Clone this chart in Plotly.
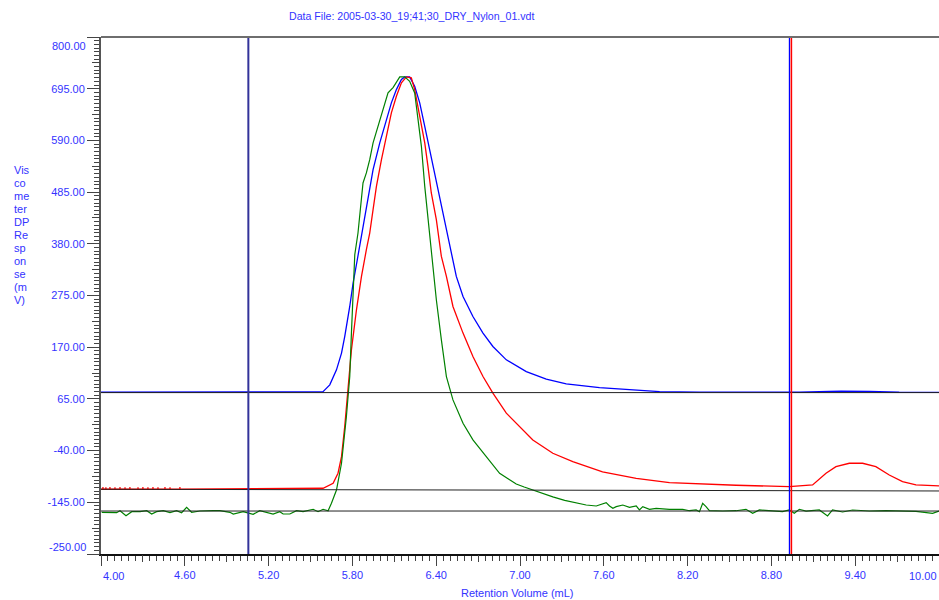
import plotly.graph_objects as go

# ---------------- data ----------------
blue_x = [4.00, 5.552, 5.588, 5.638, 5.686, 5.722, 5.745, 5.781, 5.805, 5.835, 5.876, 5.912,
          5.948, 5.996, 6.044, 6.079, 6.115, 6.151, 6.175, 6.210, 6.246, 6.282, 6.318, 6.353,
          6.389, 6.425, 6.461, 6.496, 6.544, 6.592, 6.663, 6.735, 6.806, 6.902, 7.045, 7.188,
          7.331, 7.569, 7.712, 7.855, 7.999, 8.285, 8.70, 9.000, 9.215, 9.30, 9.501, 9.715, 10.00]
blue_y = [78.5, 78.5, 79.3, 93.5, 124.0, 158.0, 191.7, 252.7, 300.2, 347.6, 415.3, 469.6,
          530.6, 584.9, 632.2, 666.2, 693.2, 713.6, 719.0, 719.0, 699.9, 666.2, 618.6, 571.2,
          523.9, 469.6, 422.2, 374.7, 313.7, 273.0, 232.3, 198.6, 171.4, 144.3, 120.5, 105.1,
          95.5, 88.0, 84.8, 81.9, 79.9, 78.7, 78.2, 78.5, 80.0, 80.5, 80.0, 78.5, 78.3]

red_x = [4.000,
         4.014, 4.014, 4.014, 4.035, 4.035, 4.035, 4.064, 4.064, 4.064, 4.100, 4.100, 4.100,
         4.136, 4.136, 4.136, 4.172, 4.172, 4.172, 4.207, 4.207, 4.207, 4.265, 4.265, 4.265,
         4.300, 4.300, 4.300, 4.336, 4.336, 4.336, 4.372, 4.372, 4.372, 4.408, 4.408, 4.408,
         4.458, 4.458, 4.458, 4.494, 4.494, 4.494, 4.565, 4.565, 4.565,
         5.590, 5.662, 5.697, 5.722, 5.745, 5.769, 5.793, 5.829, 5.865, 5.900, 5.924, 5.948,
         5.972, 6.008, 6.044, 6.079, 6.115, 6.151, 6.187, 6.222, 6.246, 6.270, 6.294, 6.318,
         6.341, 6.365, 6.401, 6.437, 6.473, 6.520, 6.592, 6.663, 6.735, 6.806, 6.902, 6.997,
         7.092, 7.235, 7.378, 7.591, 7.832, 8.070, 8.308, 8.547, 8.928, 9.095, 9.191, 9.262,
         9.358, 9.453, 9.548, 9.644, 9.739, 9.835, 10.000]
red_y = [-118.5,
         -118.5, -114.0, -118.5, -118.5, -114.5, -118.5, -118.5, -114.0, -118.5, -118.5, -114.5, -118.5,
         -118.5, -114.0, -118.5, -118.5, -114.5, -118.5, -118.5, -114.0, -118.5, -118.5, -114.5, -118.5,
         -118.5, -114.0, -118.5, -118.5, -114.5, -118.5, -118.5, -114.0, -118.5, -118.5, -114.5, -118.5,
         -118.5, -114.0, -118.5, -118.5, -114.5, -118.5, -118.5, -114.0, -118.5,
         -116.5, -106.4, -86.0, -52.3, 8.7, 83.3, 164.6, 246.0, 313.7, 368.0, 401.9, 449.3,
         496.6, 550.9, 598.3, 645.9, 679.6, 706.8, 719.0, 717.0, 693.2, 659.3, 618.6, 584.9,
         537.3, 483.2, 428.9, 354.3, 313.7, 252.7, 198.6, 151.0, 110.4, 76.6, 36.0, 8.7,
         -18.3, -45.4, -62.4, -83.4, -96.2, -105.1, -107.8, -110.4, -113.3, -109.8, -86.0, -72.6,
         -65.7, -65.7, -72.6, -89.5, -103.1, -109.8, -111.8]

green_x = [4.005, 4.064, 4.112, 4.136, 4.179, 4.220, 4.279, 4.327, 4.363, 4.398, 4.446, 4.494,
           4.541, 4.577, 4.613, 4.649, 4.708, 4.803, 4.851, 4.923, 4.947, 5.018, 5.089, 5.137,
           5.185, 5.232, 5.280, 5.304, 5.352, 5.400, 5.447, 5.519, 5.554, 5.590, 5.626, 5.650,
           5.686, 5.722, 5.757, 5.781, 5.793, 5.805, 5.817, 5.840, 5.865, 5.876, 5.900, 5.924,
           5.948, 5.984, 6.019, 6.055, 6.091, 6.127, 6.139, 6.175, 6.210, 6.246, 6.270, 6.294,
           6.318, 6.341, 6.365, 6.401, 6.437, 6.473, 6.520, 6.592, 6.663, 6.759, 6.854, 6.920,
           6.973, 7.030, 7.092, 7.150, 7.235, 7.320, 7.400, 7.474, 7.546, 7.593, 7.617, 7.641,
           7.665, 7.689, 7.736, 7.784, 7.832, 7.855, 7.879, 7.927, 7.975, 8.070, 8.165, 8.213,
           8.261, 8.285, 8.308, 8.332, 8.356, 8.451, 8.547, 8.618, 8.666, 8.714, 8.785, 8.880,
           8.928, 8.964, 9.000, 9.048, 9.143, 9.202, 9.238, 9.310, 9.381, 9.501, 9.620, 9.739,
           9.835, 9.954, 10.000]
green_y = [-165.3, -165.3, -166.1, -162.1, -172.2, -164.1, -164.1, -162.1, -168.8, -164.1, -162.1, -166.1,
           -162.1, -166.1, -155.4, -165.3, -162.7, -162.1, -162.1, -165.3, -168.8, -164.1, -169.4, -162.1,
           -165.3, -168.8, -164.1, -168.8, -168.8, -162.1, -164.1, -159.2, -164.1, -159.2, -162.1, -147.0,
           -120.0, -65.7, 29.0, 110.4, 198.6, 300.2, 357.8, 401.9, 469.6, 503.6, 523.9, 550.9,
           584.9, 618.6, 652.6, 686.5, 697.3, 713.6, 719.0, 719.0, 710.1, 686.5, 632.2, 578.0,
           496.6, 428.9, 361.2, 266.3, 185.0, 110.4, 63.0, 15.6, -18.3, -52.3, -86.0, -98.0,
           -108.0, -114.0, -120.0, -127.0, -134.0, -141.0, -146.0, -150.5, -152.5, -147.0, -145.8, -152.5,
           -157.2, -153.9, -150.5, -155.2, -152.5, -160.6, -153.9, -159.2, -157.2, -159.2, -159.2, -162.1,
           -160.6, -164.1, -147.0, -153.9, -162.1, -162.7, -162.1, -159.2, -167.4, -160.6, -162.7, -164.1,
           -160.6, -167.4, -159.2, -162.7, -160.6, -172.8, -160.6, -164.7, -160.6, -162.7, -162.1, -162.7,
           -163.4, -167.4, -162.7]

baseline_x = [4.0, 10.0]
baseline_blue = [77.8, 77.8]
baseline_red = [-118.5, -122.0]
baseline_green = [-162.7, -162.7]

cursor_left = 5.055
cursor_right_blue = 8.929
cursor_right_red = 8.943

y_ticks = [800, 695, 590, 485, 380, 275, 170, 65, -40, -145, -250]
x_ticks = [4.0, 4.6, 5.2, 5.8, 6.4, 7.0, 7.6, 8.2, 8.8, 9.4, 10.0]

title_text = "Data File: 2005-03-30_19;41;30_DRY_Nylon_01.vdt"
x_title = "Retention Volume (mL)"
y_title_lines = ["Vis", "co", "me", "ter", "DP", "Re", "sp", "on", "se", "(m", "V)"]

# ---------------- layout geometry ----------------
W, H = 939, 600
ML, MR, MT, MB = 101, 0, 37, 46
PW, PH = W - ML - MR, H - MT - MB
FONT = "Liberation Sans, Arial, sans-serif"
LBL = "#3333ff"
TICKC = "#444444"


def px(xp):
    # window pixel -> paper coordinate
    return (xp - ML) / PW


def py(yp):
    return (H - MB - yp) / PH


fig = go.Figure()

fig.add_trace(go.Scatter(x=blue_x, y=blue_y, mode="lines", line=dict(color="#0000ff", width=1.3),
                         showlegend=False, hoverinfo="skip"))
fig.add_trace(go.Scatter(x=red_x, y=red_y, mode="lines", line=dict(color="#ff0000", width=1.3),
                         showlegend=False, hoverinfo="skip"))
fig.add_trace(go.Scatter(x=green_x, y=green_y, mode="lines", line=dict(color="#008000", width=1.2),
                         showlegend=False, hoverinfo="skip"))
for by in (baseline_blue, baseline_red, baseline_green):
    fig.add_trace(go.Scatter(x=baseline_x, y=by, mode="lines", line=dict(color="#222222", width=1),
                             showlegend=False, hoverinfo="skip"))

# helper traces so the overlay axes (medium ticks) are drawn
fig.add_trace(go.Scatter(x=[None], y=[None], xaxis="x2", yaxis="y", showlegend=False, hoverinfo="skip"))
fig.add_trace(go.Scatter(x=[None], y=[None], xaxis="x", yaxis="y2", showlegend=False, hoverinfo="skip"))

# cursors
fig.add_shape(type="line", xref="x", yref="paper", x0=cursor_left, x1=cursor_left, y0=0, y1=1,
              line=dict(color="#33339a", width=2))
fig.add_shape(type="line", xref="x", yref="paper", x0=cursor_right_blue, x1=cursor_right_blue, y0=0, y1=1,
              line=dict(color="#0000ff", width=1.2))
fig.add_shape(type="line", xref="x", yref="paper", x0=cursor_right_red, x1=cursor_right_red, y0=0, y1=1,
              line=dict(color="#ff0000", width=1.6))
# top frame line
fig.add_shape(type="line", xref="paper", yref="paper", x0=0, x1=1, y0=1, y1=1,
              line=dict(color="#6e6e6e", width=2))

tfont = dict(family=FONT, size=11, color=LBL)

fig.update_layout(
    width=W, height=H, autosize=False,
    margin=dict(l=ML, r=MR, t=MT, b=MB, pad=0),
    paper_bgcolor="white", plot_bgcolor="white",
    font=dict(family=FONT, size=11, color=LBL),
    xaxis=dict(range=[4.0, 10.0], showgrid=False, zeroline=False, showline=True,
               linecolor="#111111", linewidth=1.5, ticks="outside", ticklen=10, tickwidth=1.2,
               tickcolor=TICKC, tickvals=x_ticks,
               ticktext=["" if v in (4.0, 10.0) else f"{v:.2f}" for v in x_ticks],
               tickfont=tfont,
               minor=dict(dtick=0.05, tick0=4.0, ticks="outside", ticklen=5, tickcolor=TICKC, tickwidth=1)),
    xaxis2=dict(range=[4.0, 10.0], overlaying="x", anchor="y", side="bottom", showgrid=False,
                zeroline=False, showline=False, ticks="outside", ticklen=7, tickwidth=1.2,
                tickcolor=TICKC, dtick=0.3, tick0=4.0, showticklabels=False),
    yaxis=dict(range=[-250, 800], showgrid=False, zeroline=False, showline=True,
               linecolor="#555555", linewidth=2, ticks="outside", ticklen=12, tickwidth=1.2,
               tickcolor=TICKC, tickvals=y_ticks,
               ticktext=["" if v in (800, -250) else f"{v:.2f}" for v in y_ticks],
               tickfont=tfont,
               minor=dict(dtick=7.5, tick0=-250, ticks="outside", ticklen=5, tickcolor=TICKC, tickwidth=1)),
    yaxis2=dict(range=[-250, 800], overlaying="y", anchor="x", side="left", showgrid=False,
                zeroline=False, showline=False, ticks="outside", ticklen=8, tickwidth=1.2,
                tickcolor=TICKC, dtick=52.5, tick0=-250, showticklabels=False),
)

ann = []
ann.append(dict(text=title_text, x=px(411.5), y=py(16), xref="paper", yref="paper",
                showarrow=False, font=dict(family=FONT, size=10.6, color=LBL),
                xanchor="center", yanchor="middle"))
ann.append(dict(text=x_title, x=px(517.5), y=py(593), xref="paper", yref="paper",
                showarrow=False, font=tfont, xanchor="center", yanchor="middle"))
# end tick labels (shifted inward as in the reference)
ann.append(dict(text="800.00", x=px(88), y=py(46), xref="paper", yref="paper",
                showarrow=False, font=tfont, xanchor="right", yanchor="middle"))
ann.append(dict(text="-250.00", x=px(88), y=py(546.5), xref="paper", yref="paper",
                showarrow=False, font=tfont, xanchor="right", yanchor="middle"))
ann.append(dict(text="4.00", x=px(101), y=py(576), xref="paper", yref="paper",
                showarrow=False, font=tfont, xanchor="left", yanchor="middle"))
ann.append(dict(text="10.00", x=px(939), y=py(576), xref="paper", yref="paper",
                showarrow=False, font=tfont, xanchor="right", yanchor="middle"))
for i, t in enumerate(y_title_lines):
    ann.append(dict(text=t, x=px(12), y=py(170 + 13 * i), xref="paper", yref="paper",
                    showarrow=False, font=tfont, xanchor="left", yanchor="middle"))
fig.update_layout(annotations=ann)

# remove the default page margin so the 939x600 figure fills the window exactly
fig.write_html("out.html",
               config={"displayModeBar": False},
               post_script="document.documentElement.style.margin='0';"
                           "document.body.style.margin='0';"
                           "document.body.style.overflow='hidden';")
